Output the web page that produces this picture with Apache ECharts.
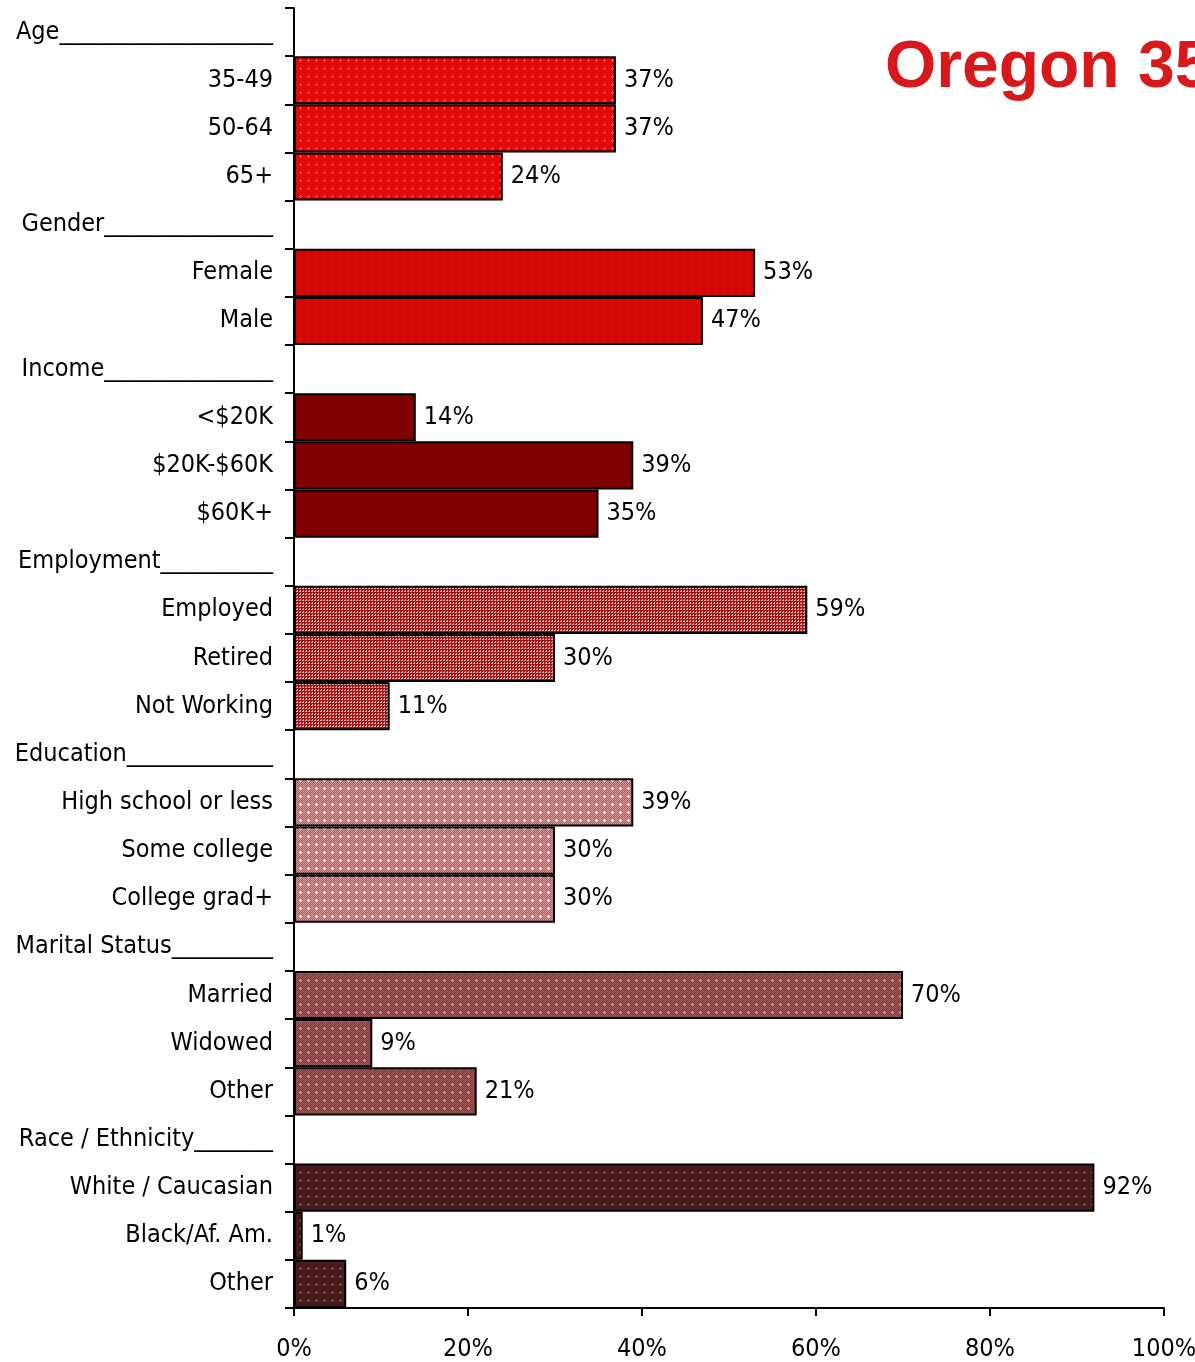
<!DOCTYPE html>
<html>
<head>
<meta charset="utf-8">
<script src="https://cdn.jsdelivr.net/npm/echarts@6/dist/echarts.min.js"></script>
<style>
  html, body { margin: 0; padding: 0; background: #fff; }
  #main { width: 1195px; height: 1362px; }
</style>
</head>
<body>
<div id="main"></div>
<script>
// group header rows, each followed by an underline of underscores
var groupNames = ['Age', 'Gender', 'Income', 'Employment', 'Education', 'Marital Status', 'Race / Ethnicity'];
var groupUnderline = [19, 15, 15, 10, 13, 9, 7];
var groupItems = [
    ['35-49', '50-64', '65+'],
    ['Female', 'Male'],
    ['<$20K', '$20K-$60K', '$60K+'],
    ['Employed', 'Retired', 'Not Working'],
    ['High school or less', 'Some college', 'College grad+'],
    ['Married', 'Widowed', 'Other'],
    ['White / Caucasian', 'Black/Af. Am.', 'Other']
];
var groupValues = [
    [37, 37, 24],
    [53, 47],
    [14, 39, 35],
    [59, 30, 11],
    [39, 30, 30],
    [70, 9, 21],
    [92, 1, 6]
];
var xTicks = [0, 20, 40, 60, 80, 100];

var FONT = "'DejaVu Sans Condensed', 'Liberation Sans Narrow', sans-serif";

// small canvas fills imitating the office hatch patterns
function makePattern(base, alt, plus, plusStep) {
    var c = document.createElement('canvas');
    var n = plusStep || 8;
    c.width = n; c.height = n;
    var g = c.getContext('2d');
    g.fillStyle = base;
    g.fillRect(0, 0, n, n);
    if (alt) {
        g.fillStyle = alt;
        for (var y = 0; y < n; y++) {
            for (var x = 0; x < n; x++) {
                if ((x + y) % 2 === 0) g.fillRect(x, y, 1, 1);
            }
        }
    }
    if (plus) {
        g.fillStyle = plus;
        g.fillRect(3, 4, 3, 1);
        g.fillRect(4, 3, 1, 3);
    }
    return { image: c, repeat: 'repeat' };
}

function makeGrid(base, line) {
    var c = document.createElement('canvas');
    c.width = 3; c.height = 3;
    var g = c.getContext('2d');
    g.fillStyle = base;
    g.fillRect(0, 0, 3, 3);
    g.fillStyle = line;
    g.fillRect(0, 0, 1, 1);
    g.fillRect(2, 0, 1, 1);
    g.fillRect(0, 2, 1, 1);
    return { image: c, repeat: 'repeat' };
}

var groupFills = [
    makePattern('#d40000', '#ee1010', '#ff5050', 8),
    makePattern('#c00000', '#e01010', null, 4),
    '#7f0000',
    makeGrid('#a01414', '#d9a6a6'),
    makePattern('#b45454', '#dc9c9c', '#f4e0e0', 8),
    makePattern('#883434', '#a25a5a', '#b89898', 8),
    makePattern('#581010', '#4a1c1c', '#6a5a5a', 8)
];

var categories = [];
var barData = [];
groupNames.forEach(function (h, gi) {
    categories.push(h + '_'.repeat(groupUnderline[gi]));
    barData.push('-');
    groupItems[gi].forEach(function (name, i) {
        categories.push(name);
        barData.push({
            value: groupValues[gi][i],
            itemStyle: { color: groupFills[gi] }
        });
    });
});

var chart = echarts.init(document.getElementById('main'));
chart.setOption({
    animation: false,
    backgroundColor: '#fff',
    textStyle: { fontFamily: FONT },
    grid: { left: 294, right: 31, top: 8, bottom: 54, containLabel: false, outerBoundsMode: 'none' },
    graphic: [{
        type: 'text',
        left: 885,
        top: 36,
        style: {
            text: 'Oregon 35+',
            fill: '#d7191b',
            font: "bold 66px 'Liberation Sans', Arial, sans-serif"
        }
    }],
    xAxis: {
        type: 'value',
        min: xTicks[0],
        max: xTicks[xTicks.length - 1],
        interval: 20,
        splitLine: { show: false },
        axisLine: { show: true, lineStyle: { color: '#000', width: 2 } },
        axisTick: { show: true, length: 8, lineStyle: { color: '#000', width: 2 } },
        axisLabel: {
            formatter: '{value}%',
            color: '#000',
            fontSize: 25,
            fontFamily: FONT,
            margin: 29
        }
    },
    yAxis: {
        type: 'category',
        inverse: true,
        data: categories,
        axisLine: { show: true, lineStyle: { color: '#000', width: 2 } },
        axisTick: { show: true, length: 9, lineStyle: { color: '#000', width: 2 } },
        axisLabel: {
            color: '#000',
            fontSize: 25,
            fontFamily: FONT,
            margin: 21,
            interval: 0
        }
    },
    series: [{
        type: 'bar',
        data: barData,
        barCategoryGap: 0,
        itemStyle: { borderColor: '#000', borderWidth: 2 },
        label: {
            show: true,
            position: 'right',
            distance: 8,
            formatter: '{c}%',
            color: '#000',
            fontSize: 25,
            fontFamily: FONT
        }
    }]
});
</script>
</body>
</html>
